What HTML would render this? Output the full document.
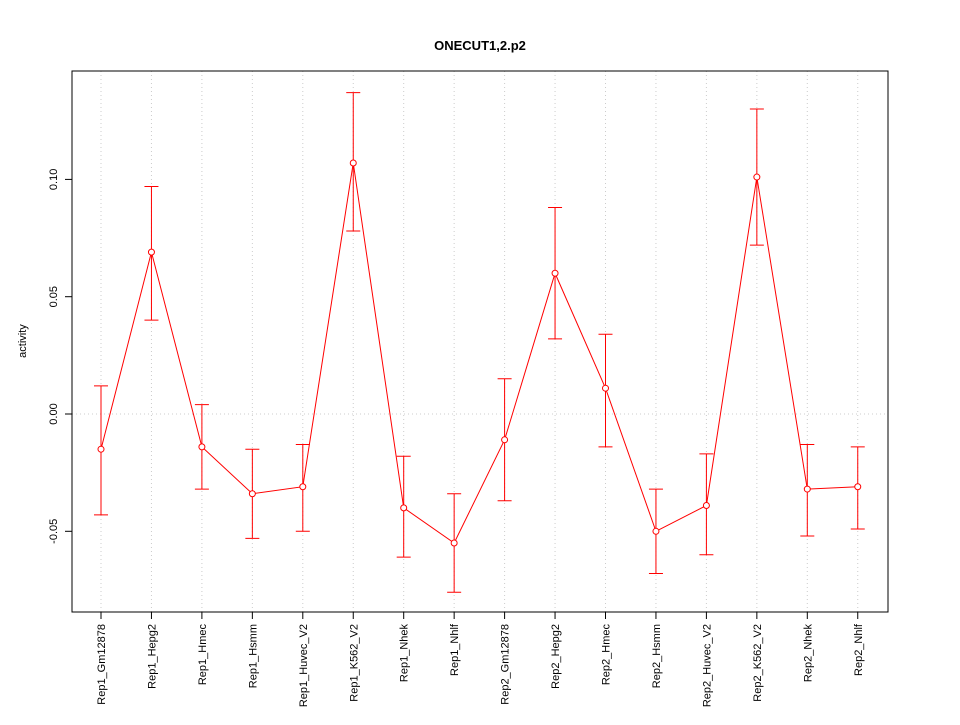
<!DOCTYPE html>
<html><head><meta charset="utf-8"><style>
body{margin:0;background:#fff}
svg text{font-family:"Liberation Sans",sans-serif;font-size:11px;fill:#000}
</style></head><body>
<svg id="chart" width="960" height="720">
<rect x="0" y="0" width="960" height="720" fill="#fff"/>
<text x="480" y="50" text-anchor="middle" style="font-weight:bold;font-size:13px">ONECUT1,2.p2</text>
<text transform="translate(26,341) rotate(-90)" text-anchor="middle">activity</text>
<g id="grid"></g><g id="axes"></g><g id="marks"></g>
<rect x="72" y="71" width="816" height="541" fill="none" stroke="#000"/>
</svg>
<script>
const categories=["Rep1_Gm12878","Rep1_Hepg2","Rep1_Hmec","Rep1_Hsmm","Rep1_Huvec_V2","Rep1_K562_V2","Rep1_Nhek","Rep1_Nhlf","Rep2_Gm12878","Rep2_Hepg2","Rep2_Hmec","Rep2_Hsmm","Rep2_Huvec_V2","Rep2_K562_V2","Rep2_Nhek","Rep2_Nhlf"];
const values=[-0.015,0.069,-0.014,-0.034,-0.031,0.107,-0.040,-0.055,-0.011,0.060,0.011,-0.050,-0.039,0.101,-0.032,-0.031];
const upper=[0.012,0.097,0.004,-0.015,-0.013,0.137,-0.018,-0.034,0.015,0.088,0.034,-0.032,-0.017,0.130,-0.013,-0.014];
const lower=[-0.043,0.040,-0.032,-0.053,-0.050,0.078,-0.061,-0.076,-0.037,0.032,-0.014,-0.068,-0.060,0.072,-0.052,-0.049];
const yTicks=[-0.05,0,0.05,0.10];
const yTickLabels=["-0.05","0.00","0.05","0.10"];
const NS="http://www.w3.org/2000/svg";
const x=i=>101+i*50.45;
const y=v=>414-v*2346;
function mk(tag,attrs,parent,txt){const e=document.createElementNS(NS,tag);for(const k in attrs)e.setAttribute(k,attrs[k]);if(txt!==undefined)e.textContent=txt;document.getElementById(parent).appendChild(e);return e;}
categories.forEach((c,i)=>{
  const g=mk("line",{x1:x(i),x2:x(i),y1:71,y2:612,stroke:"#ccc","stroke-dasharray":"1,3"},"grid");
  
  
  const t=mk("line",{x1:x(i),x2:x(i),y1:612,y2:619,stroke:"#000"},"axes");
  
  
  const l=mk("text",{transform:`translate(${x(i)+4},624) rotate(-90)`,"text-anchor":"end"},"axes",c);
  
  
});
const z=mk("line",{x1:72,x2:888,y1:y(0),y2:y(0),stroke:"#ccc","stroke-dasharray":"1,3"},"grid");


yTicks.forEach((v,i)=>{
  const t=mk("line",{x1:65,x2:72,y1:y(v),y2:y(v),stroke:"#000"},"axes");
  
  
  const l=mk("text",{transform:`translate(57,${y(v)}) rotate(-90)`,"text-anchor":"middle"},"axes",yTickLabels[i]);
  
  
});
const pl=mk("polyline",{points:values.map((v,i)=>x(i)+","+y(v)).join(" "),fill:"none",stroke:"#f00"},"marks");


values.forEach((v,i)=>{
  const e=mk("path",{d:`M${x(i)},${y(upper[i])}V${y(lower[i])}M${x(i)-7},${y(upper[i])}H${x(i)+7}M${x(i)-7},${y(lower[i])}H${x(i)+7}`,stroke:"#f00",fill:"none"},"marks");
  
  
  const p=mk("circle",{cx:x(i),cy:y(v),r:3,fill:"#fff",stroke:"#f00"},"marks");
  
  
});
</script>
</body></html>
